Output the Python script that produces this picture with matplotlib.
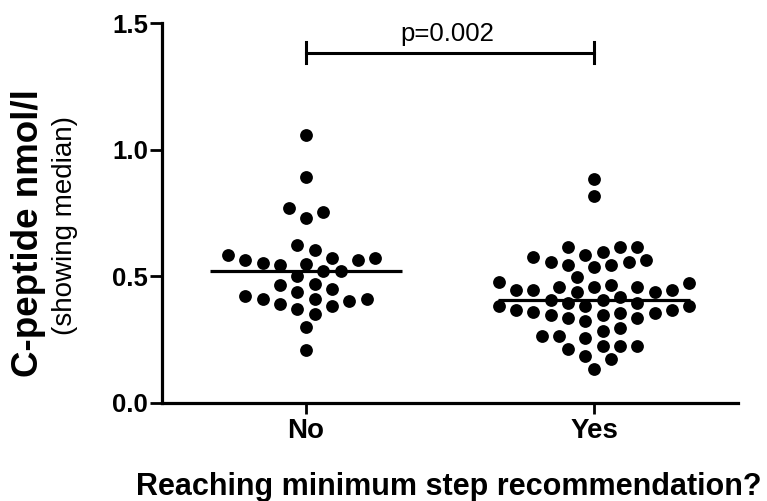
import numpy as np
import matplotlib
matplotlib.use("Agg")
import matplotlib.pyplot as plt

plt.rcParams['font.family'] = ['Liberation Sans', 'DejaVu Sans']

categories = ["No", "Yes"]
no_values = [1.059, 0.891, 0.770, 0.731, 0.754, 0.622, 0.602, 0.572, 0.563, 0.550,
             0.543, 0.520, 0.520, 0.552, 0.563, 0.572, 0.583, 0.501, 0.471, 0.451,
             0.465, 0.438, 0.412, 0.412, 0.412, 0.421, 0.402, 0.392, 0.382, 0.370,
             0.353, 0.300, 0.211]
yes_values = [0.886, 0.818, 0.614, 0.614, 0.614, 0.584, 0.575, 0.597, 0.565, 0.555,
              0.544, 0.535, 0.544, 0.555, 0.496, 0.473, 0.465, 0.456, 0.446, 0.446,
              0.439, 0.437, 0.446, 0.456, 0.456, 0.476, 0.394, 0.384, 0.384, 0.347,
              0.368, 0.334, 0.358, 0.322, 0.406, 0.355, 0.417, 0.355, 0.368, 0.334,
              0.384, 0.347, 0.394, 0.406, 0.266, 0.224, 0.226, 0.187, 0.285, 0.213,
              0.134, 0.295, 0.224, 0.174, 0.255, 0.266]
p_text = "p=0.002"
yticks = [0.0, 0.5, 1.0, 1.5]

W, H = 767, 501
fig = plt.figure(figsize=(W / 100, H / 100), dpi=100)
ax = fig.add_axes([162 / W, (H - 403) / H, (738 - 162) / W, (403 - 23) / H])
ax.set_xlim(-0.5, 1.5)
ax.set_ylim(0, 1.5)

px_x = (738 - 162) / 2.0   # pixels per x unit
px_y = (403 - 23) / 1.5    # pixels per y unit


def swarm(values, center, half_px=8.65, dmin=14.0):
    vals = np.asarray(values, dtype=float)
    ypx = vals * px_y
    order = np.argsort(vals)
    placed = []
    ks = np.zeros(len(vals))
    cands = [0]
    for j in range(1, 40):
        cands += [j, -j]
    for i in order:
        y = ypx[i]
        for k in cands:
            ok = True
            for pk, py in placed:
                dx = (k - pk) * half_px
                dy = y - py
                if dx * dx + dy * dy < dmin * dmin:
                    ok = False
                    break
            if ok:
                break
        placed.append((k, y))
        ks[i] = k
    return center + ks * half_px / px_x


for ci, vals in enumerate([no_values, yes_values]):
    xs = swarm(vals, ci)
    ax.scatter(xs, vals, s=85, color='black', linewidths=0, zorder=3)
    med = np.median(vals)
    ax.plot([ci - 0.334, ci + 0.334], [med, med], color='black', lw=2.3,
            solid_capstyle='butt', zorder=4)

# significance bracket
yb = 1.383
ax.plot([0, 1], [yb, yb], color='black', lw=2.2, clip_on=False)
ax.plot([0, 0], [yb - 0.042, yb + 0.042], color='black', lw=2.2, clip_on=False)
ax.plot([1, 1], [yb - 0.042, yb + 0.042], color='black', lw=2.2, clip_on=False)
ax.text(0.49, 1.430, p_text, ha='center', va='baseline', fontsize=18.5)

for s in ['top', 'right']:
    ax.spines[s].set_visible(False)
for s in ['left', 'bottom']:
    ax.spines[s].set_linewidth(2.3)
ax.set_yticks(yticks)
ax.set_yticklabels([f"{v:.1f}" for v in yticks], fontsize=18.5, fontweight='bold')
ax.set_xticks([0, 1])
ax.set_xticklabels(categories, fontsize=20, fontweight='bold')
ax.tick_params(axis='y', length=8.5, width=2, pad=1.5)
ax.tick_params(axis='x', length=8, width=2, pad=3)

fig.text(449 / W, 1 - 495 / H, "Reaching minimum step recommendation?",
         ha='center', va='baseline', fontsize=22, fontweight='bold')
fig.text(29 / W, 1 - 233 / H, "C-peptide nmol/l", rotation=90, ha='center',
         va='center', fontsize=26.5, fontweight='bold')
fig.text(65 / W, 1 - 226 / H, "(showing median)", rotation=90, ha='center',
         va='center', fontsize=20)

fig.savefig("out.png", dpi=100)
